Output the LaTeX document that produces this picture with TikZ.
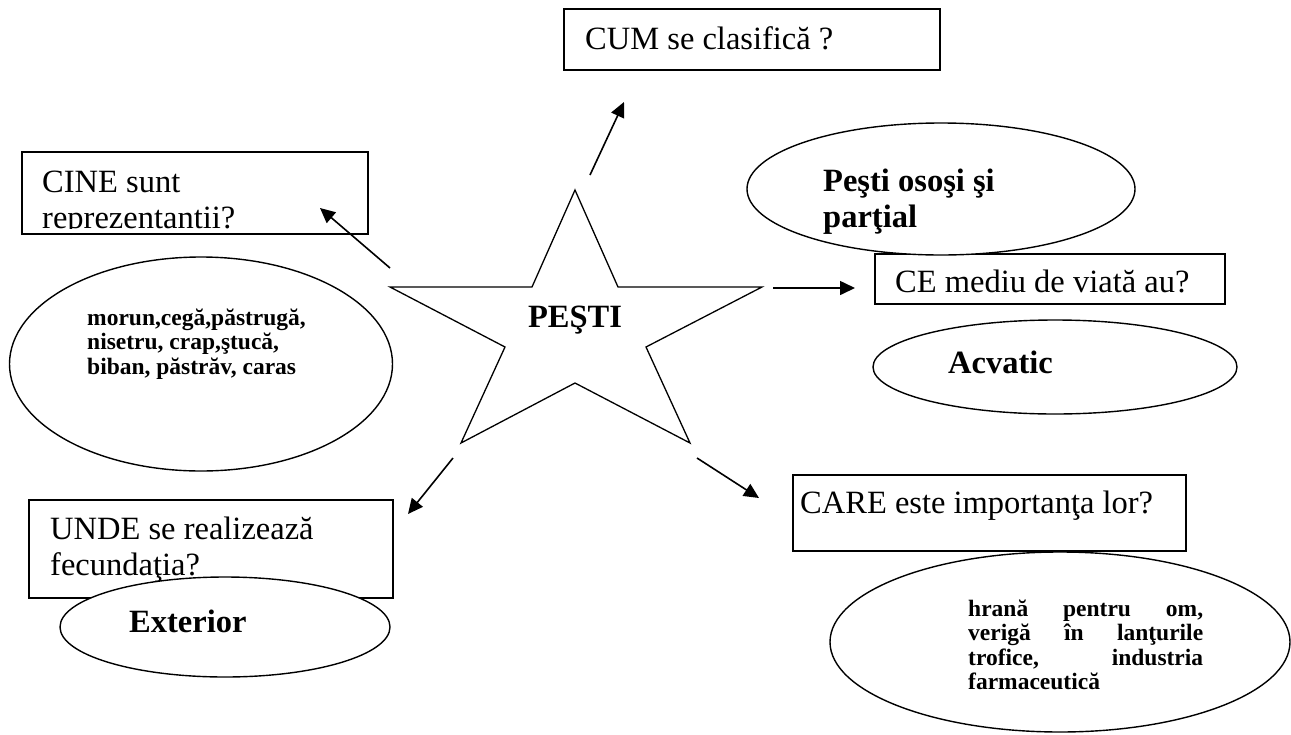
\documentclass[tikz,border=0pt]{standalone}
\usepackage{fontspec}
\setmainfont{Liberation Serif}
\usetikzlibrary{arrows.meta,shapes.geometric}

\begin{document}
\begin{tikzpicture}[x=1pt,y=-1pt,
  qbox/.style={draw, rectangle, line width=1.5pt, inner sep=0pt, anchor=north west},
  oval/.style={draw, ellipse, fill=white, line width=1.4pt, inner sep=0pt},
  qtext/.style={anchor=base west, inner sep=0pt, font=\fontsize{32.5}{36.8}\selectfont},
  btext/.style={anchor=base west, inner sep=0pt, font=\fontsize{32.5}{36}\selectfont\bfseries},
  stext/.style={anchor=base west, inner sep=0pt, font=\fontsize{23.5}{24.5}\selectfont\bfseries},
  link/.style={line width=1.6pt, -{Triangle[length=15pt,width=14pt]}}
]
\useasboundingbox (0,0) rectangle (1291,734);

% central star
\draw[line width=1.3pt, line join=miter]
  (575,190) -- (618,287) -- (762,287) -- (646,347) -- (690,443) -- (575,383)
  -- (461,443) -- (505,347) -- (390,287) -- (532,287) -- cycle;
\node[btext, anchor=base] (pesti) at (575,327) {PEŞTI};

% question boxes
\node[qbox, minimum width=376pt, minimum height=61pt] (cum) at (563,8) {};
\node[qtext] (cumText) at (585,49) {CUM se clasifică ?};

\node[qbox, minimum width=346pt, minimum height=82pt] (cine) at (21,151) {};
\begin{scope}
  \clip (22,152) rectangle (366,228);
  \node[qtext] (cineText) at (42,192) {\parbox[t]{320pt}{CINE sunt\\reprezentantii?}};
\end{scope}

\node[qbox, minimum width=350pt, minimum height=50pt] (ce) at (874,253) {};
\node[qtext] (ceText) at (895,292) {CE mediu de viată au?};

\node[qbox, minimum width=364pt, minimum height=98pt] (unde) at (28,499) {};
\node[qtext] (undeText) at (50,539) {\parbox[t]{330pt}{UNDE se realizează\\fecundaţia?}};

\node[qbox, minimum width=393pt, minimum height=76pt] (care) at (792,474) {};
\node[qtext] (careText) at (800,513) {CARE este importanţa lor?};

% answer ellipses
\node[oval, minimum width=388pt, minimum height=132pt] (osos) at (941,189) {};
\node[btext] (ososText) at (823,191) {\parbox[t]{250pt}{Peşti osoşi şi\\parţial}};

\node[oval, minimum width=364pt, minimum height=94pt] (acv) at (1055,367) {};
\node[btext] (acvText) at (948,373) {Acvatic};

\node[oval, minimum width=383pt, minimum height=214pt] (repr) at (201,364) {};
\node[stext] (reprText) at (87,325)
  {\parbox[t]{260pt}{morun,cegă,păstrugă,\\nisetru, crap,ştucă,\\biban, păstrăv, caras}};

\node[oval, minimum width=330pt, minimum height=100pt] (ext) at (225,627) {};
\node[btext] (extText) at (129,632) {Exterior};

\node[oval, minimum width=460pt, minimum height=180pt] (uses) at (1060,642) {};
\node[stext] (usesText) at (968,616)
  {\parbox[t]{235pt}{\makebox[235pt][s]{hrană pentru om,}\\\makebox[235pt][s]{verigă în lanţurile}\\\makebox[235pt][s]{trofice, industria}\\farmaceutică}};

% arrows from the star towards the questions
\coordinate (s1) at (590,175); \coordinate (e1) at (624,102);
\coordinate (s2) at (390,268); \coordinate (e2) at (320,208);
\coordinate (s3) at (773,288); \coordinate (e3) at (855,288);
\coordinate (s4) at (453,458); \coordinate (e4) at (408,514);
\coordinate (s5) at (697,458); \coordinate (e5) at (759,498);
\draw[link] (s1) -- (e1);
\draw[link] (s2) -- (e2);
\draw[link] (s3) -- (e3);
\draw[link] (s4) -- (e4);
\draw[link] (s5) -- (e5);
\end{tikzpicture}
\end{document}
